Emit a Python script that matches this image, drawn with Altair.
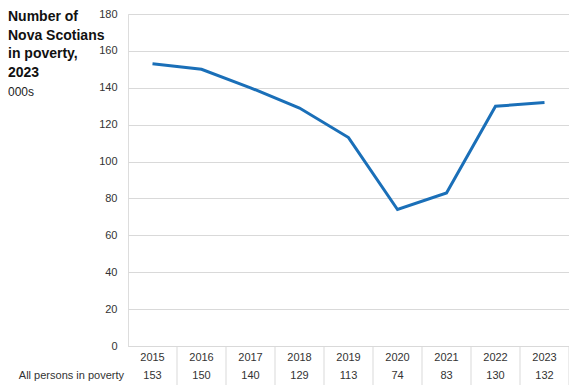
import altair as alt
import pandas as pd

years = ["2015", "2016", "2017", "2018", "2019", "2020", "2021", "2022", "2023"]
persons = [153, 150, 140, 129, 113, 74, 83, 130, 132]
row_label = "All persons in poverty"
title_lines = "Number of\nNova Scotians\nin poverty,\n2023"
unit_label = "000s"

df = pd.DataFrame({"year": years, "value": persons})

W, H = 441, 332
FONT = "Liberation Sans"
GRID = "#d9d9d9"

y_scale = alt.Scale(domain=[0, 180], nice=False)

base = alt.Chart(df)

line = base.mark_line(color="#1a6fb8", strokeWidth=3).encode(
    x=alt.X("year:N", sort=years, bandPosition=0.5,
            scale=alt.Scale(type="band", paddingInner=0, paddingOuter=0),
            axis=alt.Axis(title=None, labelAngle=0, ticks=False, domain=True, domainColor=GRID,
                          labelFont=FONT, labelFontSize=11, labelColor="#333333", labelPadding=5,
                          labelBaseline="top")),
    y=alt.Y("value:Q", scale=y_scale,
            axis=alt.Axis(title=None, values=list(range(0, 181, 20)), grid=True, gridColor=GRID,
                          domain=False, ticks=False, labelFont=FONT, labelFontSize=11,
                          labelColor="#333333", labelPadding=11)),
)

sep = base.mark_rule(color=GRID, strokeWidth=1).encode(
    x=alt.X("year:N", sort=years, bandPosition=0),
    y=alt.value(H),
    y2=alt.value(H + 40),
).transform_filter(alt.datum.year != years[0])

sep_end = base.mark_rule(color=GRID, strokeWidth=1).encode(
    x=alt.X("year:N", sort=years, bandPosition=1),
    y=alt.value(H),
    y2=alt.value(H + 40),
).transform_filter(alt.datum.year == years[-1])

vals = base.mark_text(font=FONT, fontSize=11, color="#333333", baseline="middle").encode(
    x=alt.X("year:N", sort=years, bandPosition=0.5),
    y=alt.value(H + 30),
    text=alt.Text("value:Q"),
)

rowlab = alt.Chart(pd.DataFrame({"t": [row_label]})).mark_text(
    font=FONT, fontSize=11, color="#333333", align="right", baseline="middle"
).encode(x=alt.value(-4), y=alt.value(H + 30), text="t:N")

title = alt.Chart(pd.DataFrame({"t": [title_lines]})).mark_text(
    font=FONT, fontSize=14, fontWeight="bold", color="#111111", align="left", baseline="top",
    lineBreak="\n", lineHeight=18.5
).encode(x=alt.value(-120), y=alt.value(-4), text="t:N")

unit = alt.Chart(pd.DataFrame({"t": [unit_label]})).mark_text(
    font=FONT, fontSize=12, color="#222222", align="left", baseline="top"
).encode(x=alt.value(-120), y=alt.value(73), text="t:N")

chart = alt.layer(line, sep, sep_end, vals, rowlab, title, unit).properties(
    width=W, height=H,
    autosize=alt.AutoSizeParams(type="none"),
    padding={"left": 120, "top": 6, "right": 0, "bottom": 40},
).configure_view(stroke=None).configure(background="white")

chart.save("out.html", embed_options={"renderer": "svg", "actions": False})
